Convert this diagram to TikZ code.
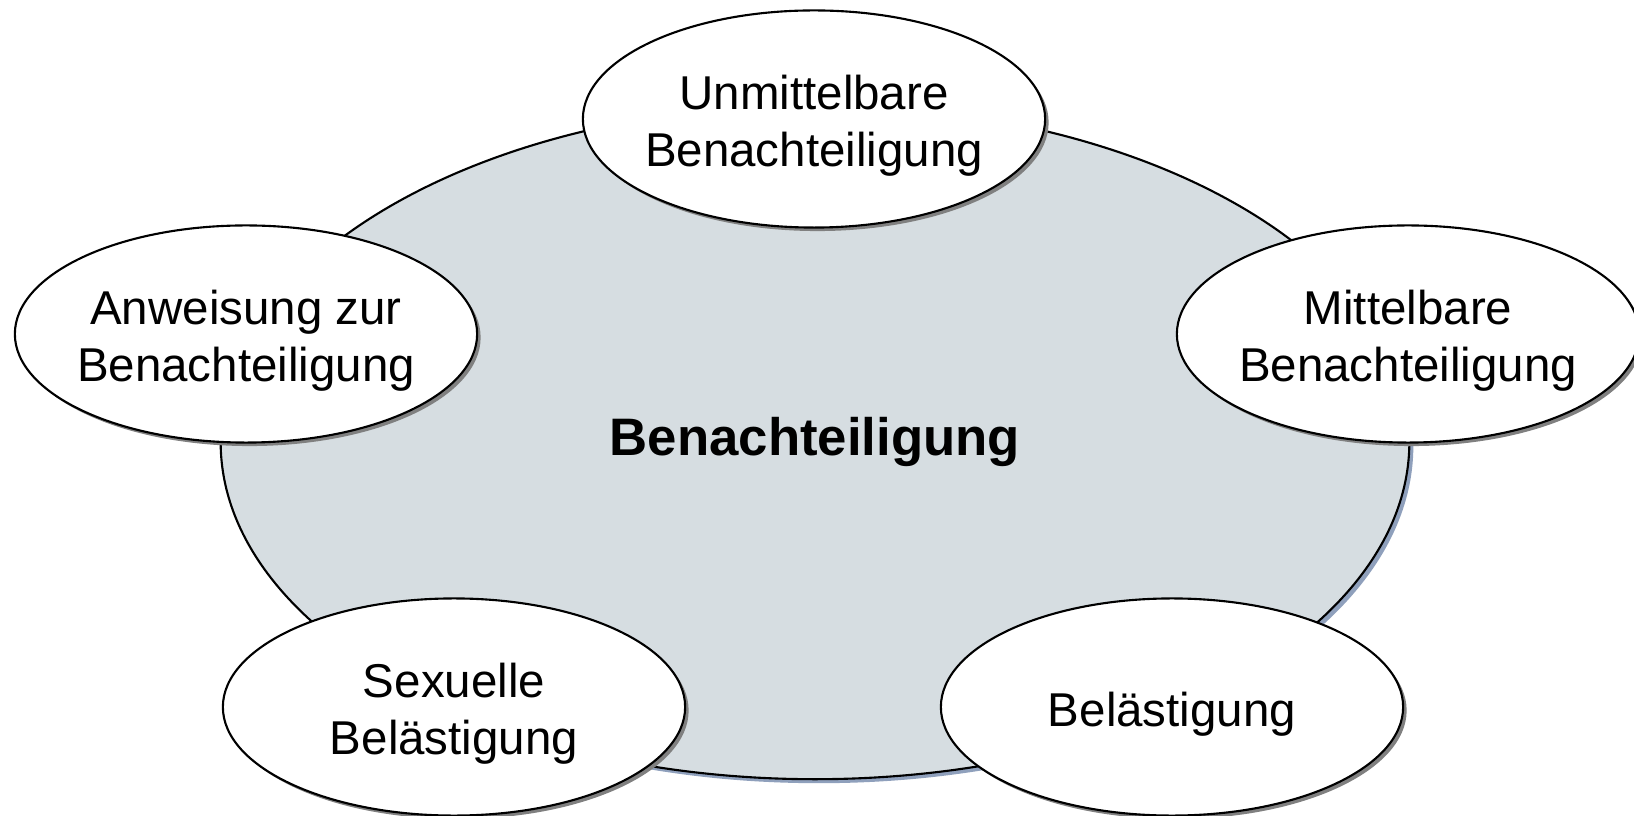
\documentclass[tikz,border=0pt]{standalone}
\usepackage{fontspec}
\setmainfont{Liberation Sans}
\usetikzlibrary{shapes.geometric,shadows}
\definecolor{kernfill}{HTML}{D6DDE1}
\definecolor{kernshadow}{HTML}{8FA0BC}
\tikzset{
	kern/.style={ellipse, draw, line width=0.6pt, fill=kernfill, inner sep=0pt,
		minimum width=11.88cm, minimum height=6.74cm,
		font=\fontsize{15}{18}\selectfont\bfseries,
		drop shadow={shadow xshift=0.04cm, shadow yshift=-0.04cm, fill=kernshadow, opacity=1}},
	art/.style={ellipse, draw, line width=0.6pt, fill=white, inner ysep=0pt, inner xsep=-0.15cm,
		align=center, minimum width=4.62cm, minimum height=2.17cm,
		font=\fontsize{13.5}{16.2}\selectfont, text height=14pt,
		drop shadow={shadow xshift=0.035cm, shadow yshift=-0.035cm, fill=gray, opacity=1}},
	doppel/.style={art, text height=30pt}
}
\begin{document}
\begin{tikzpicture}[x=0.01cm, y=-0.01cm]
	\useasboundingbox (0,0) rectangle (1634,816);
	%Grosse Ellipse in der Mitte
	\node[kern] (ben) at (815,442) {Benachteiligung};
	%Die fuenf Formen
	\node[doppel] (unm) at (814,119) {Unmittelbare\\Benachteiligung};
	\node[doppel] (mit) at (1408,334) {Mittelbare\\Benachteiligung};
	\node[doppel] (anw) at (246,334) {Anweisung zur\\Benachteiligung};
	\node[doppel] (sex) at (454,707) {Sexuelle\\Belästigung};
	\node[art] (bel) at (1172,707) {Belästigung};
\end{tikzpicture}
\end{document}
